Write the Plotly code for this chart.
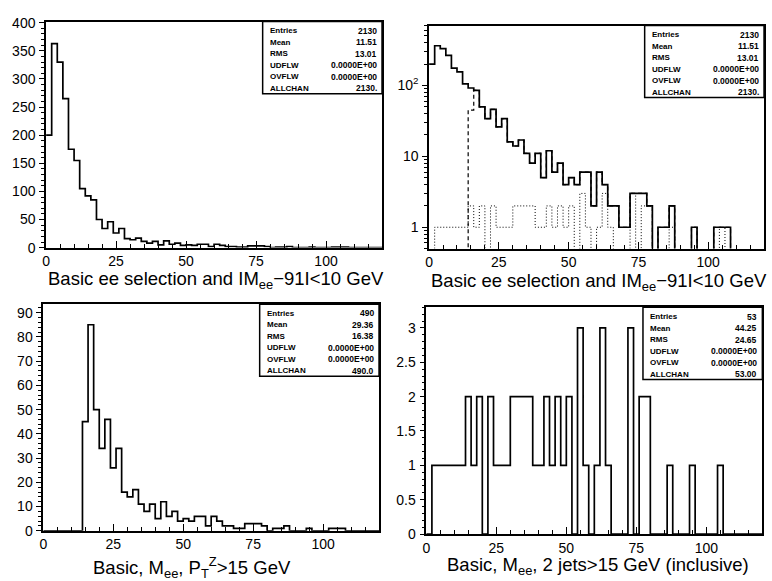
import plotly.graph_objects as go
import math

W, H = 772, 581

# ---------------- data (bin width 2 GeV, 0..120) ----------------
BIN_W = 2
N_BINS = 60
bin_edges = [i * BIN_W for i in range(N_BINS + 1)]

# Basic ee selection and |Mee-91|<10 GeV
ee_counts = [200, 363, 330, 265, 175, 155, 105, 92, 85, 50,
             34, 46, 26, 34, 16, 14, 17, 11, 8, 11,
             5, 12, 6, 8, 4, 5, 4, 6, 6, 2,
             6, 4, 2, 2, 1, 1, 3, 3, 3, 2,
             0, 1, 1, 2, 0, 0, 0, 1, 0, 0,
             0, 1, 1, 1, 0, 0, 0, 0, 0, 0]

# Basic, Mee, PT(Z) > 15 GeV
ptz_counts = [0, 0, 0, 0, 0, 0, 0, 45, 85, 50,
              34, 46, 26, 34, 16, 14, 17, 11, 8, 11,
              5, 12, 6, 8, 4, 5, 4, 6, 6, 2,
              6, 4, 2, 2, 1, 1, 3, 3, 3, 2,
              0, 1, 1, 2, 0, 0, 0, 1, 0, 0,
              0, 1, 1, 1, 0, 0, 0, 0, 0, 0]

# Basic, Mee, 2 jets > 15 GeV (inclusive)
jets_counts = [0, 1, 1, 1, 1, 1, 1, 2, 1, 2,
               0, 2, 1, 1, 1, 2, 2, 2, 2, 1,
               1, 2, 1, 2, 1, 2, 0, 3, 1, 0,
               1, 3, 1, 0, 0, 0, 3, 0, 2, 2,
               0, 0, 0, 1, 0, 0, 0, 1, 0, 0,
               0, 0, 1, 0, 0, 0, 0, 0, 0, 0]

stat_labels = ["Entries", "Mean", "RMS", "UDFLW", "OVFLW", "ALLCHAN"]
stats_ee = ["2130", "11.51", "13.01", "0.0000E+00", "0.0000E+00", "2130."]
stats_ptz = ["490", "29.36", "16.38", "0.0000E+00", "0.0000E+00", "490.0"]
stats_jets = ["53", "44.25", "24.65", "0.0000E+00", "0.0000E+00", "53.00"]

titles = [
    "Basic ee selection and IM<sub>ee</sub>\u221291I<10 GeV",
    "Basic ee selection and IM<sub>ee</sub>\u221291I<10 GeV",
    "Basic, M<sub>ee</sub>, P<sub>T</sub><sup>Z</sup>>15 GeV",
    "Basic, M<sub>ee</sub>, 2 jets>15 GeV (inclusive)",
]

# ---------------- layout geometry (pixels) ----------------
# (left, right, top, bottom) of each plot frame
panels = [
    (42.3, 380.0, 15.0, 247.0),
    (427.3, 764.0, 19.0, 248.0),
    (39.5, 377.0, 305.0, 537.7),
    (424.5, 762.3, 308.3, 541.0),
]
# title centre x and top y (pixels)
title_pos = [(213, 266), (598, 268), (189, 559), (597, 559)]

FONT = "Liberation Sans, Arial, sans-serif"


def px(x):
    return x / W


def py(y):
    return 1 - y / H


def steps(counts):
    return bin_edges, list(counts) + [counts[-1]]


def log_safe(counts):
    return [c if c > 0 else 0.01 for c in counts]


fig = go.Figure()

line_main = dict(color="black", width=1.7, shape="hv")

# panel 1
xs, ys = steps(ee_counts)
fig.add_trace(go.Scatter(x=xs, y=ys, mode="lines", line=line_main, xaxis="x", yaxis="y"))

# panel 2 (log, overlays)
xs, ys = steps(log_safe(jets_counts))
fig.add_trace(go.Scatter(x=xs, y=ys, mode="lines",
                         line=dict(color="black", width=1.0, shape="hv", dash="1px,2px"),
                         xaxis="x2", yaxis="y2"))
xs, ys = steps(log_safe(ptz_counts))
fig.add_trace(go.Scatter(x=xs, y=ys, mode="lines",
                         line=dict(color="black", width=1.2, shape="hv", dash="4px,3px"),
                         xaxis="x2", yaxis="y2"))
xs, ys = steps(log_safe(ee_counts))
fig.add_trace(go.Scatter(x=xs, y=ys, mode="lines", line=line_main, xaxis="x2", yaxis="y2"))

# panel 3
xs, ys = steps(ptz_counts)
fig.add_trace(go.Scatter(x=xs, y=ys, mode="lines", line=line_main, xaxis="x3", yaxis="y3"))

# panel 4
xs, ys = steps(jets_counts)
fig.add_trace(go.Scatter(x=xs, y=ys, mode="lines", line=line_main, xaxis="x4", yaxis="y4"))

tickfont = dict(family=FONT, size=14, color="black")


def xaxis_cfg(i):
    l, r, t, b = panels[i]
    return dict(
        domain=[px(l), px(r)], range=[0, 120], anchor="y" if i == 0 else f"y{i+1}",
        tickmode="linear", tick0=0, dtick=25, ticks="inside", ticklen=7,
        tickwidth=1.2, tickcolor="black",
        minor=dict(ticks="inside", dtick=5, ticklen=4, tickcolor="black", tickwidth=1),
        showline=True, linecolor="black", linewidth=1.6, mirror=True,
        showgrid=False, zeroline=False, tickfont=tickfont, ticklabelstandoff=0,
    )


def yaxis_common(i):
    l, r, t, b = panels[i]
    return dict(
        domain=[py(b), py(t)], anchor="x" if i == 0 else f"x{i+1}",
        ticks="outside", ticklen=5, tickwidth=1.2, tickcolor="black",
        showline=True, linecolor="black", linewidth=1.6, mirror=True,
        showgrid=False, zeroline=False, tickfont=tickfont, ticklabelstandoff=1,
    )


y1 = yaxis_common(0)
y1.update(range=[0, 402], tickmode="linear", tick0=0, dtick=50,
          minor=dict(ticks="outside", dtick=10, ticklen=3, tickcolor="black"))

y2 = yaxis_common(1)
minor_log = [v * m for m in (0.1, 1, 10, 100) for v in range(2, 10) if 0.5 <= v * m <= 700]
y2.update(type="log", range=[math.log10(0.5), math.log10(700)],
          tickmode="array", tickvals=[1, 10, 100], ticktext=["1", "10", "10<sup>2</sup>"],
          minor=dict(ticks="outside", tickvals=minor_log, ticklen=3, tickcolor="black"))

y3 = yaxis_common(2)
y3.update(range=[0, 93.5], tickmode="linear", tick0=0, dtick=10,
          minor=dict(ticks="outside", dtick=2, ticklen=3, tickcolor="black"))

y4 = yaxis_common(3)
y4.update(range=[0, 3.3], tickmode="linear", tick0=0, dtick=0.5,
          minor=dict(ticks="outside", dtick=0.1, ticklen=3, tickcolor="black"))

shapes = []
annotations = []
all_stats = [stats_ee, stats_ee, stats_ptz, stats_jets]
BOX_W, BOX_H = 120, 74
for i, (l, r, t, b) in enumerate(panels):
    x0, x1 = r - BOX_W, r
    y0, y1b = t, t + BOX_H
    shapes.append(dict(type="rect", xref="paper", yref="paper",
                       x0=px(x0), x1=px(x1), y0=py(y1b), y1=py(y0),
                       line=dict(color="black", width=1.5), fillcolor="white", layer="above"))
    for k, (lab, val) in enumerate(zip(stat_labels, all_stats[i])):
        yy = t + 9.5 + 11.8 * k
        annotations.append(dict(xref="paper", yref="paper", x=px(x0 + 5), y=py(yy),
                                text=f"<b>{lab}</b>", showarrow=False, xanchor="left",
                                yanchor="middle", font=dict(family=FONT, size=8, color="black")))
        annotations.append(dict(xref="paper", yref="paper", x=px(x1 - 3), y=py(yy),
                                text=f"<b>{val}</b>", showarrow=False, xanchor="right",
                                yanchor="middle", font=dict(family=FONT, size=8.5, color="black")))
    tx, ty = title_pos[i]
    annotations.append(dict(xref="paper", yref="paper", x=px(tx), y=py(ty), text=titles[i],
                            showarrow=False, xanchor="center", yanchor="top",
                            font=dict(family=FONT, size=18.5, color="black")))

fig.update_layout(
    width=W, height=H, margin=dict(l=0, r=0, t=0, b=0),
    paper_bgcolor="white", plot_bgcolor="white", showlegend=False,
    xaxis=xaxis_cfg(0), xaxis2=xaxis_cfg(1), xaxis3=xaxis_cfg(2), xaxis4=xaxis_cfg(3),
    yaxis=y1, yaxis2=y2, yaxis3=y3, yaxis4=y4,
    shapes=shapes, annotations=annotations,
)

fig.write_html("out.html", config={"displayModeBar": False},
               post_script="document.body.style.margin='0px';document.body.style.overflow='hidden';")
